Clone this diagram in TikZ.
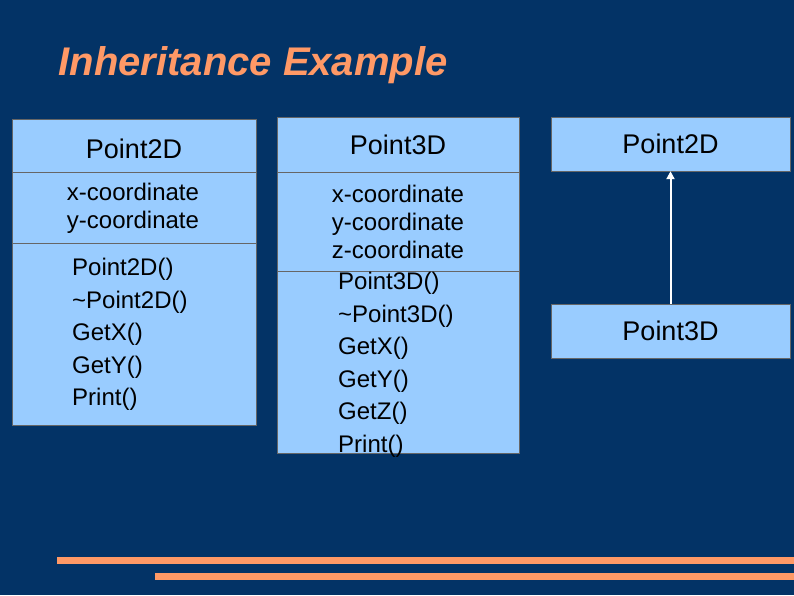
\documentclass[tikz,border=0pt]{standalone}
\usepackage{fontspec}
\setmainfont{Liberation Sans}
\usetikzlibrary{arrows.meta}
\definecolor{slidebg}{RGB}{3,51,102}
\definecolor{boxblue}{RGB}{153,204,255}
\definecolor{salmon}{RGB}{255,153,102}
\tikzset{
  classbox/.style={draw=black!60,fill=boxblue},
  member/.style={font=\fontsize{24}{28}\selectfont,align=center,inner sep=0pt},
  method/.style={font=\fontsize{24}{32.5}\selectfont,align=left,inner sep=0pt,anchor=north west}
}
\begin{document}
\begin{tikzpicture}[x=1pt,y=-1pt]
  \fill[slidebg] (0,0) rectangle (794,595);
  \useasboundingbox (0,0) rectangle (794,595);
  \node[anchor=west,text=salmon,font=\fontsize{40}{46}\selectfont\bfseries\itshape] (title) at (55,65) {Inheritance Example};

  % Point2D
  \draw[classbox] (12,119) rectangle (256,425);
  \draw[black!60] (12,172) -- (256,172) (12,243) -- (256,243);
  \node[member,font=\fontsize{27}{30}\selectfont] (p2name) at (134,149) {Point2D};
  \node[member] (p2attr) at (133,208) {x-coordinate\\y-coordinate};
  \node[method] (p2meth) at (72,258) {Point2D()\\\char`~Point2D()\\GetX()\\GetY()\\Print()};

  % Point3D
  \draw[classbox] (277,117) rectangle (519,453);
  \draw[black!60] (277,172) -- (519,172) (277,271) -- (519,271);
  \node[member,font=\fontsize{27}{30}\selectfont] (p3name) at (398,145) {Point3D};
  \node[member] (p3attr) at (398,222) {x-coordinate\\y-coordinate\\z-coordinate};
  \node[method] (p3meth) at (338,272) {Point3D()\\\char`~Point3D()\\GetX()\\GetY()\\GetZ()\\Print()};

  % hierarchy
  \node[classbox,minimum width=239pt,minimum height=54pt,font=\fontsize{27}{30}\selectfont] (base) at (670.5,144) {Point2D};
  \node[classbox,minimum width=239pt,minimum height=54pt,font=\fontsize{27}{30}\selectfont] (derived) at (670.5,331) {Point3D};
  \draw[white,line width=2pt,-{Triangle[open,fill=white,length=8pt,width=8pt]}] (derived.north) -- (base.south);

  % footer bars
  \fill[salmon] (57,557) rectangle (794,564);
  \fill[salmon] (155,573) rectangle (794,580);
\end{tikzpicture}
\end{document}
